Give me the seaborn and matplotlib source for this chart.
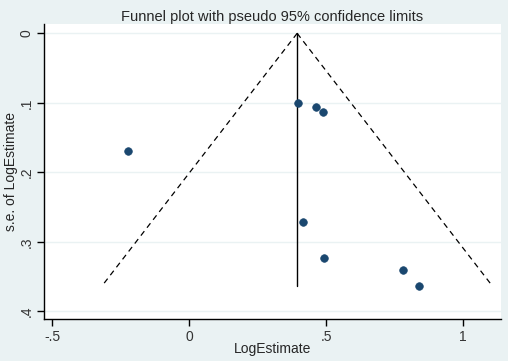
import matplotlib
matplotlib.use("Agg")
import matplotlib.pyplot as plt
import numpy as np
import pandas as pd
import seaborn as sns

# study estimates
log_estimate = [-0.223, 0.396, 0.462, 0.488, 0.417, 0.493, 0.781, 0.838]
se_log_estimate = [0.170, 0.100, 0.106, 0.113, 0.271, 0.323, 0.340, 0.363]

pooled = 0.394          # fixed-effect pooled LogEstimate
funnel_se = [0.0, 0.363]  # from apex to the largest s.e.

x_ticks = [-0.5, 0, 0.5, 1]
x_tick_labels = ["-.5", "0", ".5", "1"]
y_ticks = [0, 0.1, 0.2, 0.3, 0.4]
y_tick_labels = ["0", ".1", ".2", ".3", ".4"]

bg = "#EAF2F3"
navy = "#1A476F"

sns.set_style("white")
plt.rcParams["font.family"] = ["Liberation Sans", "DejaVu Sans"]

df = pd.DataFrame({"LogEstimate": log_estimate, "se": se_log_estimate})

fig = plt.figure(figsize=(5.08, 3.61), dpi=100, facecolor=bg)
ax = fig.add_axes([0.0866, 0.1163, 0.8994, 0.8172])
ax.set_facecolor("white")

# pseudo 95% limits
se_arr = np.array(funnel_se)
ax.plot(pooled - 1.96 * se_arr, se_arr, color="black", lw=0.9, ls=(0, (4.5, 3.5)))
ax.plot(pooled + 1.96 * se_arr, se_arr, color="black", lw=0.9, ls=(0, (4.5, 3.5)))
ax.plot([pooled, pooled], funnel_se, color="black", lw=1.0)

sns.scatterplot(data=df, x="LogEstimate", y="se", ax=ax, color=navy,
                s=30, edgecolor=navy, linewidth=0.5, zorder=3)

ax.set_xlim(-0.53, 1.1376)
ax.set_ylim(0.411, -0.0134)

ax.set_xticks(x_ticks, labels=x_tick_labels)
ax.set_yticks(y_ticks, labels=y_tick_labels)
plt.setp(ax.get_yticklabels(), rotation=90, va="center")
ax.tick_params(axis="both", direction="out", length=5, width=1, color="black",
               labelsize=10, labelcolor="#333333", left=True, bottom=True, pad=3)
ax.tick_params(axis="y", pad=2.5)

ax.grid(axis="y", color=bg, lw=1)
ax.grid(axis="x", visible=False)
for side in ["top", "right"]:
    ax.spines[side].set_visible(False)
for side in ["left", "bottom"]:
    ax.spines[side].set_color("black")
    ax.spines[side].set_linewidth(1)

ax.set_xlabel("LogEstimate", fontsize=10, labelpad=-1.5)
ax.set_ylabel("s.e. of LogEstimate", fontsize=10)
ax.yaxis.set_label_coords(-0.057, 0.5)
ax.set_title("Funnel plot with pseudo 95% confidence limits", fontsize=10.5, pad=2)

fig.savefig("out.png", dpi=100, facecolor=bg)
